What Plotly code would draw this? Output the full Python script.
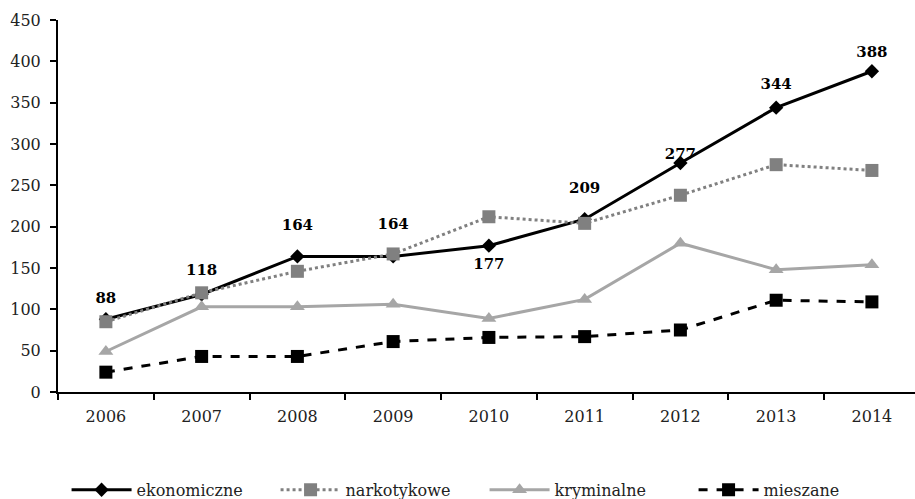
import plotly.graph_objects as go

years = ["2006", "2007", "2008", "2009", "2010", "2011", "2012", "2013", "2014"]
ekonomiczne = [88, 118, 164, 164, 177, 209, 277, 344, 388]
narkotykowe = [85, 120, 146, 167, 212, 204, 238, 275, 268]
kryminalne = [49, 103, 103, 106, 89, 112, 180, 148, 154]
mieszane = [24, 43, 43, 61, 66, 67, 75, 111, 109]

# where each value label sits relative to its point, and the invisible
# marker size that sets how far it is pushed away from the point
label_pos = ["top center"] * 4 + ["bottom center"] + ["top center"] * 4
label_gap = [18, 24, 34, 36, 18, 34, 0, 22, 16]

serif = "DejaVu Serif"

fig = go.Figure()
fig.add_trace(go.Scatter(
    x=years, y=ekonomiczne, name="ekonomiczne", mode="lines+markers",
    line=dict(color="black", width=3),
    marker=dict(symbol="diamond", size=11, color="black"),
))
fig.add_trace(go.Scatter(
    x=years, y=narkotykowe, name="narkotykowe", mode="lines+markers",
    line=dict(color="#808080", width=3, dash="dot"),
    marker=dict(symbol="square", size=13, color="#808080"),
))
fig.add_trace(go.Scatter(
    x=years, y=kryminalne, name="kryminalne", mode="lines+markers",
    line=dict(color="#A6A6A6", width=3),
    marker=dict(symbol="triangle-up", size=13, color="#A6A6A6"),
))
fig.add_trace(go.Scatter(
    x=years, y=mieszane, name="mieszane", mode="lines+markers",
    line=dict(color="black", width=3, dash="dash"),
    marker=dict(symbol="square", size=13, color="black"),
))
# value labels for "ekonomiczne"
fig.add_trace(go.Scatter(
    x=years, y=ekonomiczne, mode="markers+text", showlegend=False, hoverinfo="skip",
    marker=dict(size=label_gap, opacity=0),
    text=["<b>%d</b>" % v for v in ekonomiczne], textposition=label_pos,
    textfont=dict(family=serif, size=15, color="black"),
    cliponaxis=False,
))

fig.update_layout(
    width=915, height=499,
    margin=dict(l=58, r=0, t=20, b=107, autoexpand=False),
    plot_bgcolor="white", paper_bgcolor="white",
    font=dict(family=serif, size=16, color="#222"),
    showlegend=True,
    legend=dict(
        orientation="h",
        x=0.01, xanchor="left", y=-0.263, yanchor="middle",
        font=dict(family=serif, size=16, color="#222"),
        itemwidth=60, entrywidth=134,
    ),
)
fig.update_xaxes(
    type="category", range=[-0.5, 8.45],
    tickson="boundaries", ticks="outside", ticklen=6, tickwidth=1.5, tickcolor="black",
    showline=True, linecolor="black", linewidth=2,
    showgrid=False, zeroline=False, ticklabelstandoff=9,
)
fig.update_yaxes(
    range=[0, 450], dtick=50,
    ticks="outside", ticklen=6, tickwidth=1.5, tickcolor="black",
    showline=True, linecolor="black", linewidth=2,
    showgrid=False, zeroline=False, ticklabelstandoff=6,
)

fig.write_html("out.html")
